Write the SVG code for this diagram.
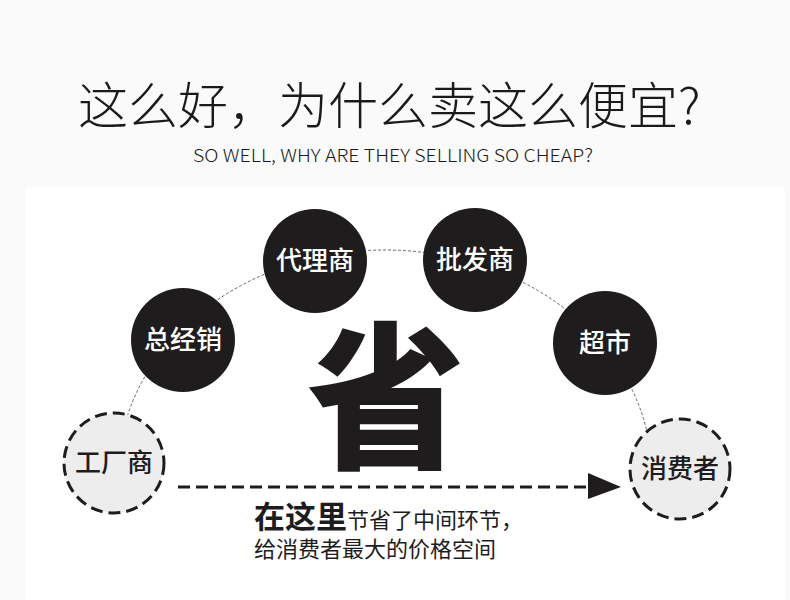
<svg xmlns="http://www.w3.org/2000/svg" width="790" height="600" viewBox="0 0 790 600">
<style>
.cjk{font-family:"Noto Sans CJK SC","Noto Sans",sans-serif}
.dark{fill:#1e1c1d}
.lbl{font-size:26px;font-weight:500;text-anchor:middle}
.w{fill:#ffffff}
.g{fill:#ededed;stroke:#1e1c1d;stroke-width:3;stroke-dasharray:12 6}
</style>
<rect x="0" y="0" width="790" height="600" fill="#fafafa"/>
<rect x="25" y="187" width="760" height="420" rx="4" fill="#ffffff"/>
<g id="title">
<text class="cjk" x="78" y="124" font-size="50" font-weight="300" fill="#1a1a1a">这么好，为什么卖这么便宜?</text>
<text class="cjk" x="193" y="162" font-size="18" font-weight="300" fill="#1a1a1a" textLength="400" lengthAdjust="spacingAndGlyphs">SO WELL, WHY ARE THEY SELLING SO CHEAP?</text>
</g>
<g id="connectors">
<path d="M118,475 A267,225 0 0 1 652,475" fill="none" stroke="#666" stroke-width="1" stroke-dasharray="3 2"/>
<line x1="178" y1="487" x2="592" y2="487" stroke="#1e1c1d" stroke-width="3" stroke-dasharray="12 6"/>
<polygon points="588,473 621,487 588,499" class="dark"/>
</g>
<g id="sheng">
<text class="cjk dark" x="386" y="456" font-size="158" font-weight="900" text-anchor="middle">省</text>
</g>
<g id="factory">
<circle cx="114" cy="463" r="50" class="g"/>
<text class="cjk lbl" x="114" y="472" fill="#1e1c1d" font-weight="400">工厂商</text>
</g>
<g id="distributor">
<circle cx="183" cy="340" r="52" class="dark"/>
<text class="cjk lbl w" x="183" y="349">总经销</text>
</g>
<g id="agent">
<circle cx="315" cy="261" r="52" class="dark"/>
<text class="cjk lbl w" x="315" y="270">代理商</text>
</g>
<g id="wholesaler">
<circle cx="475" cy="260" r="52" class="dark"/>
<text class="cjk lbl w" x="475" y="269">批发商</text>
</g>
<g id="supermarket">
<circle cx="605" cy="343" r="52" class="dark"/>
<text class="cjk lbl w" x="605" y="352">超市</text>
</g>
<g id="consumer">
<circle cx="680" cy="469" r="50" class="g"/>
<text class="cjk lbl" x="680" y="478" fill="#1e1c1d" font-weight="400">消费者</text>
</g>
<g id="caption">
<text class="cjk" x="254" y="528" fill="#1e1c1d"><tspan font-size="31" font-weight="700">在这里</tspan><tspan font-size="22" font-weight="400">节省了中间环节，</tspan></text>
<text class="cjk" x="254" y="557" font-size="22" font-weight="400" fill="#1e1c1d">给消费者最大的价格空间</text>
</g>
</svg>
